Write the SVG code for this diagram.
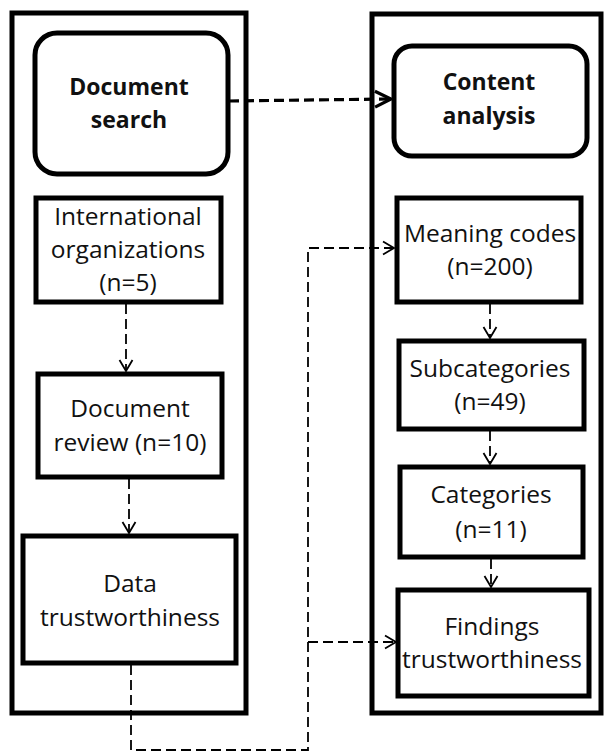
<svg xmlns="http://www.w3.org/2000/svg" width="604" height="753" viewBox="0 0 604 753">
<defs>
<style>
.outer{fill:none;stroke:#000;stroke-width:5}
.box{fill:#fff;stroke:#000;stroke-width:5}
.t{font-family:"Open Sans","Liberation Sans",sans-serif;font-size:24.5px;fill:#111;text-anchor:middle}
.b{font-family:"Open Sans","Liberation Sans",sans-serif;font-size:23px;font-weight:bold;fill:#111;text-anchor:middle}
.c{fill:none;stroke:#000;stroke-width:1.8;stroke-dasharray:10 5}
.ct{fill:none;stroke:#000;stroke-width:3.2;stroke-dasharray:10 5}
</style>
<marker id="ah" markerWidth="16" markerHeight="16" refX="12" refY="8" orient="auto" markerUnits="userSpaceOnUse">
<path d="M1,1.5 L12,8 L1,14.5" fill="none" stroke="#000" stroke-width="1.8"/>
</marker>
<marker id="ahb" markerWidth="22" markerHeight="22" refX="18" refY="11" orient="auto" markerUnits="userSpaceOnUse">
<path d="M2,3 L18,11 L2,19" fill="none" stroke="#000" stroke-width="3.2"/>
</marker>
</defs>
<rect width="604" height="753" fill="#fff"/>
<g id="left-panel"><rect class="outer" x="12" y="13" width="234" height="700"/></g>
<g id="right-panel"><rect class="outer" x="372" y="14" width="229" height="699"/></g>
<g id="document-search">
<rect class="box" x="35" y="33" width="193" height="141" rx="22"/>
<text class="b" x="129" y="95">Document</text>
<text class="b" x="129" y="128">search</text>
</g>
<g id="content-analysis">
<rect class="box" x="394" y="46" width="193" height="110" rx="18"/>
<text class="b" x="489" y="90">Content</text>
<text class="b" x="489" y="124">analysis</text>
</g>
<g id="international-organizations">
<rect class="box" x="36" y="198" width="185" height="104"/>
<text class="t" x="128" y="225">International</text>
<text class="t" x="128" y="258">organizations</text>
<text class="t" x="128" y="291">(n=5)</text>
</g>
<g id="document-review">
<rect class="box" x="38" y="374" width="184" height="103"/>
<text class="t" x="130" y="417">Document</text>
<text class="t" x="130" y="451">review (n=10)</text>
</g>
<g id="data-trustworthiness">
<rect class="box" x="23" y="536" width="213" height="127"/>
<text class="t" x="130" y="592">Data</text>
<text class="t" x="130" y="626">trustworthiness</text>
</g>
<g id="meaning-codes">
<rect class="box" x="397" y="198" width="184" height="104"/>
<text class="t" x="490" y="242">Meaning codes</text>
<text class="t" x="490" y="275">(n=200)</text>
</g>
<g id="subcategories">
<rect class="box" x="399" y="341" width="185" height="88"/>
<text class="t" x="490" y="377">Subcategories</text>
<text class="t" x="490" y="410">(n=49)</text>
</g>
<g id="categories">
<rect class="box" x="400" y="467" width="183" height="90"/>
<text class="t" x="491" y="503">Categories</text>
<text class="t" x="491" y="538">(n=11)</text>
</g>
<g id="findings-trustworthiness">
<rect class="box" x="398" y="590" width="191" height="106"/>
<text class="t" x="492" y="635">Findings</text>
<text class="t" x="492" y="668">trustworthiness</text>
</g>
<g id="connectors">
<line class="ct" x1="229" y1="101" x2="391" y2="99" marker-end="url(#ahb)"/>
<line class="c" x1="126" y1="304" x2="126" y2="371" marker-end="url(#ah)"/>
<line class="c" x1="129" y1="479" x2="129" y2="533" marker-end="url(#ah)"/>
<line class="c" x1="490" y1="304" x2="490" y2="338" marker-end="url(#ah)"/>
<line class="c" x1="490" y1="431" x2="490" y2="464" marker-end="url(#ah)"/>
<line class="c" x1="491" y1="559" x2="491" y2="587" marker-end="url(#ah)"/>
<polyline class="c" points="131,665 131,750 308,750 308,248 394,248" marker-end="url(#ah)"/>
<line class="c" x1="308" y1="642" x2="396" y2="642" marker-end="url(#ah)"/>
</g>
</svg>
